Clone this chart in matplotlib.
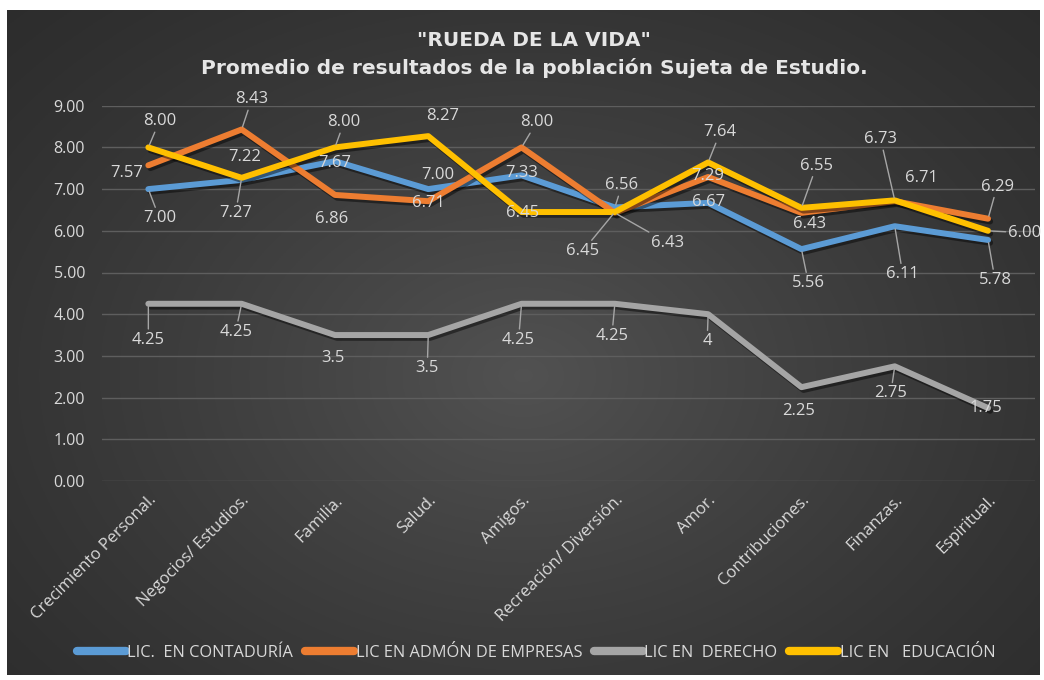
import numpy as np
import matplotlib
matplotlib.use("Agg")
import matplotlib.pyplot as plt
import matplotlib.patheffects as pe

plt.rcParams['font.family'] = ['Open Sans', 'DejaVu Sans']

# data
categories = ["Crecimiento Personal.", "Negocios/ Estudios.", "Familia.", "Salud.",
              "Amigos.", "Recreación/ Diversión.", "Amor.", "Contribuciones.",
              "Finanzas.", "Espiritual."]
contaduria = [7.00, 7.22, 7.67, 7.00, 7.33, 6.56, 6.67, 5.56, 6.11, 5.78]
admon = [7.57, 8.43, 6.86, 6.71, 8.00, 6.43, 7.29, 6.43, 6.71, 6.29]
derecho = [4.25, 4.25, 3.5, 3.5, 4.25, 4.25, 4, 2.25, 2.75, 1.75]
educacion = [8.00, 7.27, 8.00, 8.27, 6.45, 6.45, 7.64, 6.55, 6.73, 6.00]
labels_derecho = ["4.25", "4.25", "3.5", "3.5", "4.25", "4.25", "4", "2.25", "2.75", "1.75"]

series_names = ["LIC.  EN CONTADURÍA", "LIC EN ADMÓN DE EMPRESAS",
                "LIC EN  DERECHO", "LIC EN   EDUCACIÓN"]
colors = ["#5B9BD5", "#ED7D31", "#A5A5A5", "#FFC000"]

# label placement (pixel offsets from the point) and which ones get leader lines
offsets = [
    [(11, -29), (3, 23), (0, -2), (10, 14), (0, 2), (7, 22), (0, 1), (7, -34), (8, -48), (7, -40)],
    [(-22, -8), (10, 30), (-3, -24), (0, -2), (15, 25), (53, -30), (0, 1), (8, -11), (27, 23), (9, 32)],
    [(0, -36), (-6, -28), (-2, -23), (-1, -33), (-3, -36), (-3, -32), (-1, -27), (-3, -24), (-4, -27), (-2, 0)],
    [(11, 26), (-6, -35), (9, 25), (14, 20), (1, -1), (-32, -39), (12, 30), (15, 42), (-14, 61), (37, -2)],
]
leaders = [
    [0, 5, 7, 8, 9],
    [1, 4, 5, 9],
    [0, 1, 3, 4, 5, 6, 8],
    [0, 1, 2, 5, 6, 7, 8, 9],
]

W, H = 1044, 680
fig = plt.figure(figsize=(W / 100, H / 100), dpi=100, facecolor="white")

# dark radial gradient panel
bg = fig.add_axes([7 / W, 5 / H, 1033 / W, 665 / H])
yy, xx = np.mgrid[0:1:400j, 0:1:600j]
r = np.sqrt(((xx - 0.5) / 0.75) ** 2 + ((yy - 0.45) / 0.85) ** 2)
r = np.clip(r, 0, 1)
shade = 0.17 + (0.32 - 0.17) * (1 - r) ** 1.3
bg.imshow(np.dstack([shade] * 3), aspect="auto", extent=(0, 1, 0, 1), origin="lower")
bg.axis("off")

ax = fig.add_axes([101.7 / W, (H - 481) / H, 933 / W, 375.3 / H])
ax.set_facecolor("none")
x = np.arange(len(categories))
ax.set_xlim(-0.5, len(categories) - 0.5)
ax.set_ylim(0, 9)
ax.set_yticks(np.arange(0, 10, 1))
ax.set_yticklabels(["%.2f" % v for v in np.arange(0, 10, 1)])
ax.yaxis.grid(True, color="#5E5E5E", lw=1)
ax.set_axisbelow(True)
for s in ax.spines.values():
    s.set_visible(False)
ax.tick_params(axis="both", length=0, colors="#D9D9D9", labelsize=11.5)
ax.tick_params(axis="y", pad=12)
ax.set_xticks(x)
ax.set_xticklabels(categories, rotation=45, ha="right", rotation_mode="anchor")
ax.tick_params(axis="x", pad=8, labelsize=12)

all_series = [contaduria, admon, derecho, educacion]
shadow = [pe.SimpleLineShadow(offset=(1.5, -2), shadow_color="black", alpha=0.45), pe.Normal()]
for vals, col, name in zip(all_series, colors, series_names):
    ax.plot(x, vals, color=col, lw=4.3, label=name, solid_capstyle="round",
            solid_joinstyle="round", path_effects=shadow, zorder=3)

for k, vals in enumerate(all_series):
    for i, v in enumerate(vals):
        txt = labels_derecho[i] if k == 2 else "%.2f" % v
        dx, dy = offsets[k][i]
        props = None
        if i in leaders[k]:
            props = dict(arrowstyle="-", color="#A6A6A6", lw=1, shrinkA=0, shrinkB=2)
        ax.annotate(txt, (i, v), xytext=(dx, dy), textcoords="offset pixels",
                    ha="center", va="center", fontsize=12, color="#D9D9D9",
                    arrowprops=props, zorder=5, annotation_clip=False)

fig.text(534 / W, 1 - 41 / H, '"RUEDA DE LA VIDA"', ha="center", va="center",
         fontsize=14.5, fontweight="bold", color="#E6E6E6", family="DejaVu Sans")
fig.text(534 / W, 1 - 68 / H, "Promedio de resultados de la población Sujeta de Estudio.",
         ha="center", va="center", fontsize=14.5, fontweight="bold", color="#E6E6E6",
         family="DejaVu Sans")

leg = fig.legend(loc="center", bbox_to_anchor=(536 / W, 1 - 653 / H), ncol=4, frameon=False,
                 fontsize=11.8, handlelength=3.0, handletextpad=0.1, columnspacing=0.7)
for t in leg.get_texts():
    t.set_color("#D9D9D9")
for h in leg.get_lines():
    h.set_linewidth(6)
    h.set_solid_capstyle("round")
    h.set_path_effects([])

fig.savefig("out.png", dpi=100, facecolor="white")
